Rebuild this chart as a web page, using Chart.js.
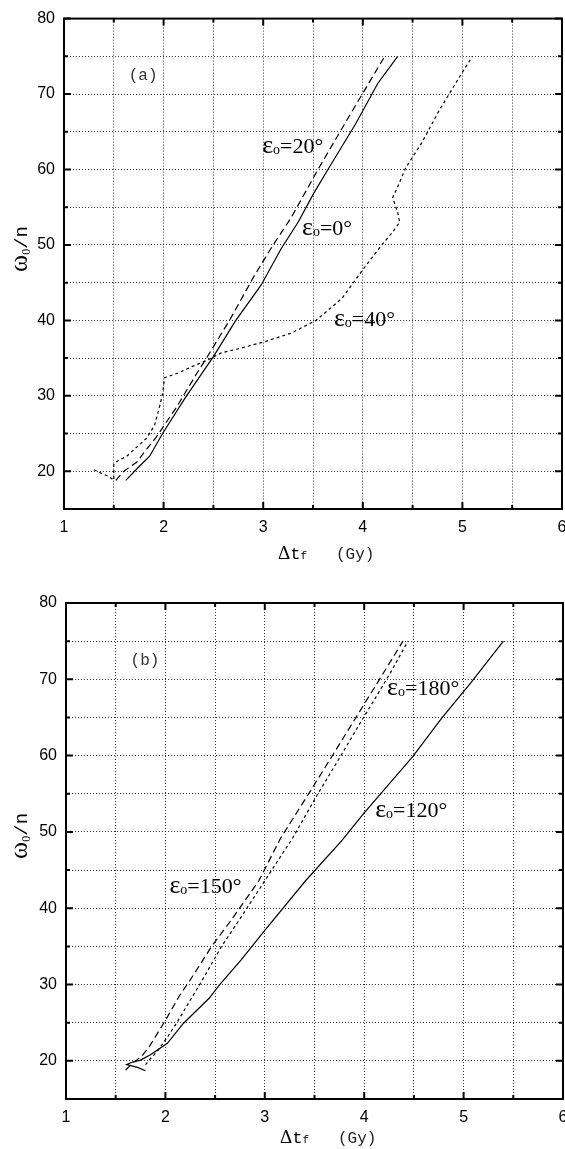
<!DOCTYPE html>
<html>
<head>
<meta charset="utf-8">
<script src="https://cdn.jsdelivr.net/npm/chart.js@4.4.1/dist/chart.umd.min.js"></script>
<style>
  html, body { margin: 0; padding: 0; background: #fff; overflow: hidden; width: 565px; height: 1149px; }
  .panel { position: absolute; left: 0; }
  #pa { top: 0; }
  #pb { top: 575px; }
</style>
</head>
<body>
<div class="panel" id="pa"><canvas id="chartA" width="600" height="575"></canvas></div>
<div class="panel" id="pb"><canvas id="chartB" width="600" height="574"></canvas></div>
<script>
(() => {
  "use strict";

  // Axis ticks
  const xMin = 1, xMax = 6, xStep = 0.5;
  const yMin = 15, yMax = 80, yStep = 5;

  // Panel (a)
  const dtA0 = [1.62, 1.76, 1.86, 1.99, 2.22, 2.50, 2.72, 2.98, 3.18, 3.35, 3.51, 3.65, 3.93, 4.15, 4.35];
  const wA0  = [18.8, 20.7, 22.0, 25.0, 29.8, 35.2, 39.9, 44.7, 49.5, 53.0, 56.9, 60.0, 66.1, 71.4, 75.0];
  const dtA20 = [1.52, 1.60, 1.73, 1.81, 1.93, 2.13, 2.33, 2.44, 2.67, 2.91, 3.09, 3.28, 3.55, 3.82, 4.22];
  const wA20  = [18.8, 20.0, 21.2, 22.6, 24.6, 28.5, 32.9, 35.2, 40.2, 45.9, 49.8, 53.6, 60.0, 66.1, 75.0];
  const dtA40 = [1.30, 1.38, 1.45, 1.50, 1.50, 1.53, 1.63, 1.73, 1.83, 1.91, 1.96, 1.99, 2.01, 2.14, 2.29, 2.45, 2.58,
                 2.77, 3.02, 3.28, 3.53, 3.79, 4.01, 4.19, 4.30, 4.37, 4.35, 4.30, 4.34, 4.43, 4.59, 4.77, 4.94, 5.10];
  const wA40  = [20.2, 19.7, 19.3, 18.8, 20.9, 21.3, 22.0, 23.2, 24.4, 26.1, 28.6, 30.3, 32.4, 33.0, 33.9, 34.8, 35.7,
                 36.3, 37.2, 38.3, 40.0, 42.9, 46.9, 50.0, 51.7, 53.0, 54.3, 56.3, 57.4, 60.2, 63.5, 67.9, 71.6, 75.0];

  // Panel (b)
  const dtB120 = [1.80, 1.72, 1.61, 1.65, 1.75, 1.85, 2.02, 2.18, 2.44, 2.54, 2.76, 3.00, 3.41, 3.77, 4.00, 4.49, 4.78, 5.07, 5.40];
  const wB120  = [18.7, 19.15, 19.5, 19.75, 20.1, 20.8, 22.3, 24.9, 28.2, 29.9, 33.2, 37.1, 43.6, 48.8, 52.5, 59.9, 64.9, 69.5, 75.0];
  const dtB150 = [1.60, 1.68, 1.76, 1.84, 2.00, 2.14, 2.25, 2.47, 2.66, 2.94, 3.16, 3.48, 3.77, 4.14, 4.39];
  const wB150  = [18.8, 19.8, 20.6, 21.9, 25.3, 28.5, 30.6, 35.1, 38.4, 43.6, 49.2, 55.8, 61.9, 69.7, 75.0];
  const dtB180 = [1.80, 1.83, 1.92, 2.02, 2.12, 2.22, 2.35, 2.56, 2.76, 3.00, 3.28, 3.53, 3.77, 3.97, 4.12, 4.27, 4.44];
  const wB180  = [19.5, 20.0, 21.3, 23.1, 25.1, 27.3, 30.1, 34.9, 38.8, 43.6, 49.2, 54.9, 60.1, 64.5, 67.7, 71.0, 75.0];

  // Curve labels: [x, y, angle text]
  const labelsA = [[2.99, 62.2, "=20°"], [3.39, 51.3, "=0°"], [3.71, 39.3, "=40°"]];
  const labelsB = [[4.23, 67.9, "=180°"], [4.11, 52.0, "=120°"], [2.04, 42.0, "=150°"]];

  const SERIF = '"Liberation Serif", "Times New Roman", serif';
  const MONO = '"Liberation Mono", "Courier New", monospace';
  const SANS = '"Liberation Sans", Arial, sans-serif';

  const pts = (xs, ys) => xs.map((x, i) => ({ x, y: ys[i] }));
  const line = (xs, ys, dash) => ({
    data: pts(xs, ys), borderColor: "#000", borderWidth: 1.2, borderDash: dash,
    pointRadius: 0, tension: 0, fill: false
  });

  // draw pieces of text one after another from (x, y) baseline-left
  function rich(ctx, x, y, parts) {
    parts.forEach(p => {
      ctx.font = p.font;
      ctx.fillStyle = p.color || "#000";
      ctx.fillText(p.t, x + (p.dx || 0), y + (p.dy || 0));
      x += ctx.measureText(p.t).width + (p.dx || 0);
    });
  }
  const richWidth = (ctx, parts) => parts.reduce((w, p) => {
    ctx.font = p.font; return w + ctx.measureText(p.t).width + (p.dx || 0);
  }, 0);

  const decor = {
    id: "decor",
    afterDraw(chart, args, o) {
      const { ctx, chartArea: a, scales: { x, y } } = chart;
      ctx.save();
      // frame + inward ticks
      ctx.strokeStyle = "#000";
      ctx.lineWidth = 2;
      ctx.strokeRect(a.left, a.top, a.right - a.left, a.bottom - a.top);
      ctx.beginPath();
      x.ticks.forEach(t => {
        const px = x.getPixelForValue(t.value);
        const len = Number.isInteger(t.value) ? 7 : 4;
        ctx.moveTo(px, a.bottom); ctx.lineTo(px, a.bottom - len);
        ctx.moveTo(px, a.top); ctx.lineTo(px, a.top + len);
      });
      y.ticks.forEach(t => {
        const py = y.getPixelForValue(t.value);
        const len = t.value % 10 === 0 ? 7 : 4;
        ctx.moveTo(a.left, py); ctx.lineTo(a.left + len, py);
        ctx.moveTo(a.right, py); ctx.lineTo(a.right - len, py);
      });
      ctx.stroke();

      ctx.textBaseline = "alphabetic";
      ctx.textAlign = "left";
      // panel tag
      rich(ctx, x.getPixelForValue(1.65), y.getPixelForValue(71.9),
        [{ t: o.tag, font: `16px ${MONO}`, color: "#333" }]);
      // curve labels
      o.labels.forEach(([lx, ly, s]) => {
        rich(ctx, x.getPixelForValue(lx), y.getPixelForValue(ly), [
          { t: "ε", font: `26px ${SERIF}` },
          { t: "o", font: `14px ${SERIF}`, dy: 1 },
          { t: s, font: `22px ${SERIF}` }
        ]);
      });
      // x title
      const by = a.bottom + o.xTitleDy;
      rich(ctx, a.left + 214, by, [
        { t: "Δ", font: `19px ${SERIF}` },
        { t: "t", font: `17px ${MONO}` },
        { t: "f", font: `11px ${MONO}` }
      ]);
      rich(ctx, a.left + 272, by, [{ t: "(Gy)", font: `16px ${MONO}`, color: "#222" }]);
      // y title (rotated)
      const yParts = [
        { t: "ω", font: `26px ${SERIF}` },
        { t: "0", font: `12px ${SERIF}`, dy: 3 },
        { t: "/n", font: `19px ${MONO}` }
      ];
      const w = richWidth(ctx, yParts);
      ctx.translate(27, y.getPixelForValue(50) + o.yTitleDy);
      ctx.rotate(-Math.PI / 2);
      rich(ctx, -w / 2, 0, yParts);
      ctx.restore();
    }
  };

  function makeChart(id, box, H, datasets, opts) {
    return new Chart(document.getElementById(id), {
      type: "line",
      data: { datasets },
      plugins: [decor],
      options: {
        responsive: false,
        animation: false,
        layout: { padding: { top: box.top, right: 600 - box.right, left: 0, bottom: 0 } },
        plugins: { legend: { display: false }, tooltip: { enabled: false }, decor: opts },
        scales: {
          x: {
            type: "linear", min: xMin, max: xMax,
            afterFit: s => { s.height = H - box.bottom; },
            ticks: {
              stepSize: xStep, autoSkip: false, maxRotation: 0, padding: 9, color: "#000",
              font: { family: SANS, size: 16 },
              callback: v => Number.isInteger(v) ? v : ""
            },
            grid: { color: "rgba(0,0,0,0.8)", lineWidth: 1, drawTicks: false },
            border: { display: false, dash: [1, 2] }
          },
          y: {
            type: "linear", min: yMin, max: yMax,
            afterFit: s => { s.width = box.left; },
            ticks: {
              stepSize: yStep, autoSkip: false, padding: 9, color: "#000",
              font: { family: SANS, size: 16 },
              callback: v => v % 10 === 0 ? v : ""
            },
            grid: { color: "rgba(0,0,0,0.8)", lineWidth: 1, drawTicks: false },
            border: { display: false, dash: [1, 2] }
          }
        }
      }
    });
  }

  makeChart("chartA", { left: 64, top: 14, right: 562, bottom: 509 }, 575, [
    line(dtA0, wA0, []),
    line(dtA20, wA20, [7, 4]),
    line(dtA40, wA40, [3, 3])
  ], { tag: "(a)", labels: labelsA, xTitleDy: 50, yTitleDy: 4 });

  makeChart("chartB", { left: 66, top: 28, right: 563, bottom: 524 }, 574, [
    line(dtB120, wB120, []),
    line(dtB150, wB150, [7, 4]),
    line(dtB180, wB180, [3, 3])
  ], { tag: "(b)", labels: labelsB, xTitleDy: 44, yTitleDy: 4 });
})();
</script>
</body>
</html>
